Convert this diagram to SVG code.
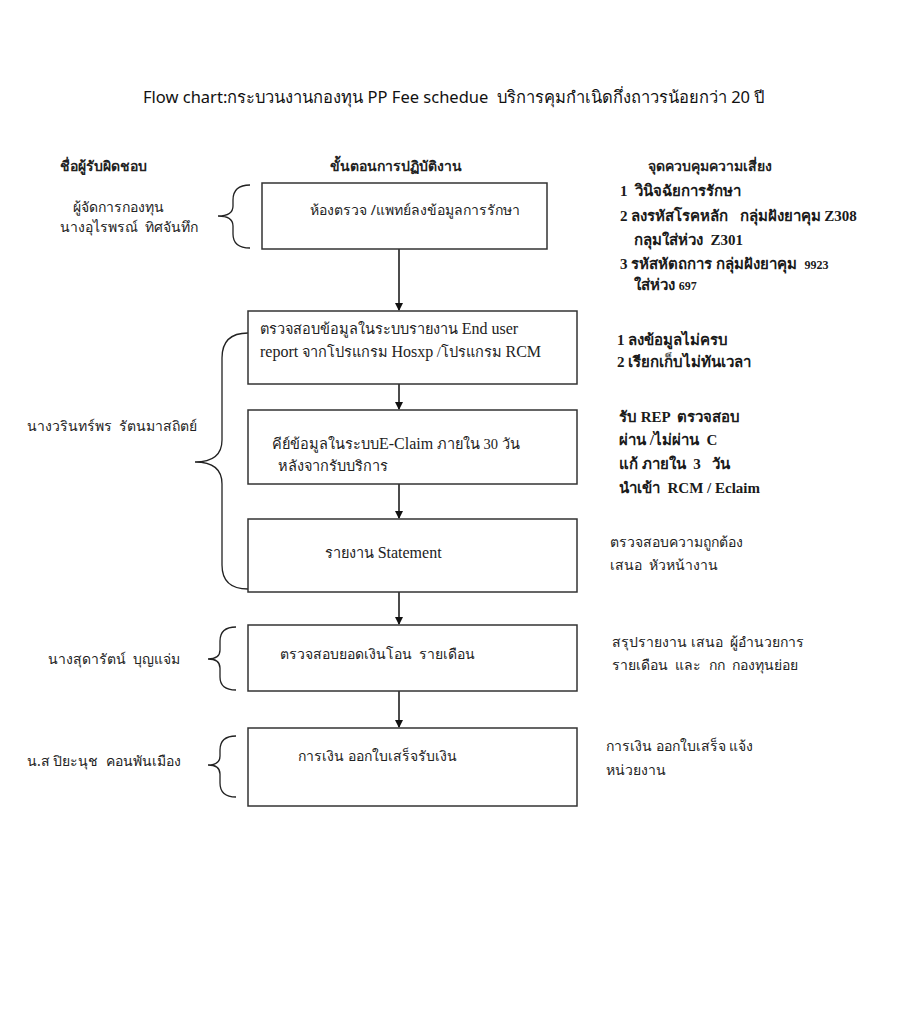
<svg xmlns="http://www.w3.org/2000/svg" width="902" height="1024" viewBox="0 0 902 1024" xml:space="preserve">
<style>
text{white-space:pre}
.bg{fill:#fff}
.box{fill:#fff;stroke:#333;stroke-width:1.5}
.br{fill:none;stroke:#222;stroke-width:1.3}
.con{stroke:#111;stroke-width:1.5;fill:none}
.t{font-family:"Noto Sans","Liberation Sans",sans-serif;font-size:14px;fill:#222}
.s{font-family:"Liberation Serif","Noto Serif",serif;font-size:14.5px;fill:#222}
.L{font-size:16px}
.r{font-family:"Liberation Serif","Noto Serif",serif;font-size:15px;fill:#1a1a1a;font-weight:bold}
.h{font-family:"Noto Sans","Liberation Sans",sans-serif;font-size:14px;font-weight:bold;fill:#222}
.title{font-family:"Noto Sans","Liberation Sans",sans-serif;font-size:16.5px;fill:#111}
</style>
<defs>
<marker id="ah" markerWidth="8" markerHeight="8" refX="7" refY="4" orient="auto" markerUnits="userSpaceOnUse">
<path d="M0,0 L8,4 L0,8 z" fill="#111"/>
</marker>
</defs>
<rect class="bg" x="0" y="0" width="902" height="1024"/>
<text class="title" x="143" y="103">Flow chart:กระบวนงานกองทุน PP Fee schedue  บริการคุมกำเนิดกึ่งถาวรน้อยกว่า 20 ปี</text>
<g id="headers">
<text class="h" x="60" y="171">ชื่อผู้รับผิดชอบ</text>
<text class="h" x="330" y="171">ขั้นตอนการปฏิบัติงาน</text>
<text class="h" x="648" y="171">จุดควบคุมความเสี่ยง</text>
</g>
<g id="connectors">
<line class="con" x1="399" y1="249" x2="399" y2="310" marker-end="url(#ah)"/>
<line class="con" x1="399" y1="384" x2="399" y2="409" marker-end="url(#ah)"/>
<line class="con" x1="399" y1="484" x2="399" y2="518" marker-end="url(#ah)"/>
<line class="con" x1="399" y1="592" x2="399" y2="624" marker-end="url(#ah)"/>
<line class="con" x1="399" y1="691" x2="399" y2="727" marker-end="url(#ah)"/>
</g>
<g id="braces">
<path class="br" d="M250,185 Q233,185 233,200 L233,206 Q233,216 218,216 Q233,216 233,226 L233,234 Q233,248 250,248"/>
<path class="br" d="M248,333 Q222,333 222,358 L222,440 Q222,462 195,462 Q222,462 222,484 L222,565 Q222,589 248,589"/>
<path class="br" d="M236,627 Q220,627 220,641 L220,650 Q220,659 208,659 Q220,659 220,668 L220,677 Q220,690 236,690"/>
<path class="br" d="M236,736 Q220,736 220,750 L220,756 Q220,765 208,765 Q220,765 220,774 L220,783 Q220,797 236,797"/>
</g>
<g id="n1">
<rect class="box" x="262" y="183" width="285" height="66"/>
<text class="t" x="310" y="215">ห้องตรวจ /แพทย์ลงข้อมูลการรักษา</text>
</g>
<g id="n2">
<rect class="box" x="248" y="311" width="329" height="73"/>
<text class="s" x="260" y="334">ตรวจสอบข้อมูลในระบบรายงาน <tspan class="L">End user</tspan></text>
<text class="s" x="260" y="357"><tspan class="L">report</tspan> จากโปรแกรม <tspan class="L">Hosxp</tspan> /โปรแกรม <tspan class="L">RCM</tspan></text>
</g>
<g id="n3">
<rect class="box" x="248" y="410" width="329" height="74"/>
<text class="s" x="272" y="449">คีย์ข้อมูลในระบบ<tspan class="L">E-Claim</tspan> ภายใน 30 วัน</text>
<text class="s" x="278" y="471">หลังจากรับบริการ</text>
</g>
<g id="n4">
<rect class="box" x="248" y="519" width="329" height="73"/>
<text class="s" x="325" y="558">รายงาน <tspan class="L">Statement</tspan></text>
</g>
<g id="n5">
<rect class="box" x="248" y="625" width="329" height="66"/>
<text class="t" x="280" y="659">ตรวจสอบยอดเงินโอน  รายเดือน</text>
</g>
<g id="n6">
<rect class="box" x="248" y="728" width="329" height="78"/>
<text class="t" x="298" y="761">การเงิน ออกใบเสร็จรับเงิน</text>
</g>
<g id="responsible">
<text class="t" x="118" y="212" text-anchor="middle">ผู้จัดการกองทุน</text>
<text class="t" x="60" y="232">นางอุไรพรณ์  ทิศจันทึก</text>
<text class="t" x="27" y="431">นางวรินทร์พร  รัตนมาสถิตย์</text>
<text class="t" x="48" y="664">นางสุดารัตน์  บุญแจ่ม</text>
<text class="t" x="27" y="766">น.ส ปิยะนุช  คอนพันเมือง</text>
</g>
<g id="risks">
<text class="r" x="620" y="196">1  วินิจฉัยการรักษา</text>
<text class="r" x="620" y="221">2 ลงรหัสโรคหลัก   กลุ่มฝังยาคุม Z308</text>
<text class="r" x="634" y="245">กลุมใส่ห่วง  Z301</text>
<text class="r" x="620" y="269">3 รหัสหัตถการ กลุ่มฝังยาคุม  <tspan style="font-size:12px">9923</tspan></text>
<text class="r" x="634" y="290">ใส่ห่วง <tspan style="font-size:12px">697</tspan></text>
<text class="r" x="617" y="345">1 ลงข้อมูลไม่ครบ</text>
<text class="r" x="617" y="367">2 เรียกเก็บไม่ทันเวลา</text>
<text class="r" x="619" y="422">รับ REP  ตรวจสอบ</text>
<text class="r" x="619" y="445">ผ่าน /ไม่ผ่าน  C</text>
<text class="r" x="619" y="469">แก้ ภายใน  3   วัน</text>
<text class="r" x="619" y="493">นำเข้า  RCM / Eclaim</text>
<text class="t" x="610" y="547">ตรวจสอบความถูกต้อง</text>
<text class="t" x="610" y="570">เสนอ  หัวหน้างาน</text>
<text class="t" x="612" y="647">สรุปรายงาน เสนอ  ผู้อำนวยการ</text>
<text class="t" x="612" y="670">รายเดือน  และ  กก  กองทุนย่อย</text>
<text class="t" x="606" y="751">การเงิน ออกใบเสร็จ แจ้ง</text>
<text class="t" x="606" y="775">หน่วยงาน</text>
</g>
</svg>
